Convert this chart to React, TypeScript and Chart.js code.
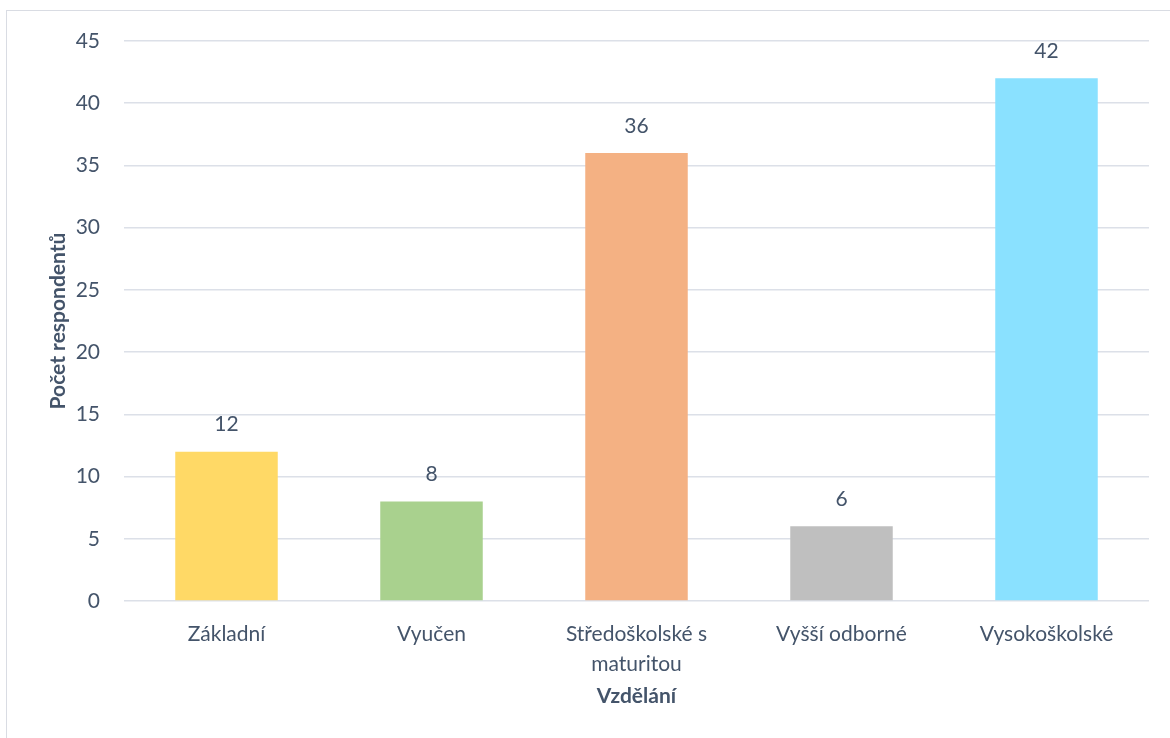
import React, { useEffect, useRef } from "react";
import { Chart, registerables } from "chart.js";

Chart.register(...registerables);

const categories: (string | string[])[] = [
  "Základní",
  "Vyučen",
  ["Středoškolské s", "maturitou"],
  "Vyšší odborné",
  "Vysokoškolské",
];
const counts: number[] = [12, 8, 36, 6, 42];
const barColors: string[] = ["#FFD966", "#A9D18E", "#F4B183", "#BFBFBF", "#8AE1FF"];
const yTitle = "Počet respondentů";
const xTitle = "Vzdělání";

const TEXT = "#44546A";
const GRID = "#DCE0E8";
const FONT = "Lato, 'Open Sans', sans-serif";
const FS = 21;

const valueLabels = {
  id: "valueLabels",
  afterDatasetsDraw(chart: any) {
    const { ctx } = chart;
    const meta = chart.getDatasetMeta(0);
    ctx.save();
    ctx.fillStyle = TEXT;
    ctx.font = `${FS}px ${FONT}`;
    ctx.textAlign = "center";
    ctx.textBaseline = "middle";
    meta.data.forEach((bar: any, i: number) => {
      ctx.fillText(String(chart.data.datasets[0].data[i]), bar.x, bar.y - 27);
    });
    ctx.restore();
  },
};

export default function App() {
  const ref = useRef<HTMLCanvasElement | null>(null);
  useEffect(() => {
    if (!ref.current) return;
    const chart = new Chart(ref.current, {
      type: "bar",
      data: {
        labels: categories,
        datasets: [
          {
            data: counts,
            backgroundColor: barColors,
            barPercentage: 0.5,
            categoryPercentage: 1,
          },
        ],
      },
      options: {
        animation: false,
        responsive: true,
        maintainAspectRatio: false,
        layout: { padding: { left: 46, top: 41, right: 21, bottom: 29 } },
        plugins: { legend: { display: false }, tooltip: { enabled: false } },
        scales: {
          x: {
            grid: { display: false },
            border: { display: false },
            ticks: {
              color: TEXT,
              font: { family: FONT, size: FS, lineHeight: 30 / FS },
              padding: 10,
              maxRotation: 0,
              autoSkip: false,
            },
            title: {
              display: true,
              text: xTitle,
              color: TEXT,
              font: { family: FONT, size: FS, weight: "bold", lineHeight: 1.2 },
              padding: 0,
            },
            afterFit: (s: any) => {
              s.height = 108;
            },
          },
          y: {
            min: 0,
            max: 45,
            ticks: {
              stepSize: 5,
              color: TEXT,
              font: { family: FONT, size: FS },
              padding: 24,
            },
            grid: { color: GRID, lineWidth: 1.5, drawTicks: false },
            border: { display: false },
            title: {
              display: true,
              text: yTitle,
              color: TEXT,
              font: { family: FONT, size: FS, weight: "bold", lineHeight: 1.2 },
              padding: 0,
            },
            afterFit: (s: any) => {
              s.width = 78;
            },
          },
        },
      },
      plugins: [valueLabels],
    });
    return () => chart.destroy();
  }, []);

  return (
    <div
      style={{
        position: "fixed",
        left: 0,
        top: 0,
        width: 1170,
        height: 738,
        overflow: "hidden",
        background: "#fff",
      }}
    >
      <div
        style={{
          position: "absolute",
          left: 6,
          top: 10,
          width: 1300,
          height: 900,
          border: "1.5px solid #D9DCE3",
        }}
      />
      <div style={{ position: "absolute", left: 0, top: 0, width: 1170, height: 738 }}>
        <canvas ref={ref} />
      </div>
    </div>
  );
}
